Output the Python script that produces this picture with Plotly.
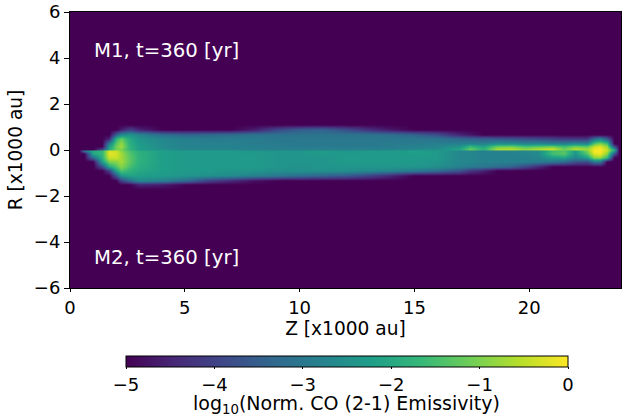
import plotly.graph_objects as go

z_kau = [0.4, 0.6, 1.0, 1.4, 1.7, 2.0, 2.2, 2.6, 3.0, 4.0, 5.0, 6.0, 7.0, 8.0, 9.0, 10.0, 11.0, 12.0, 13.0, 14.0,
         15.0, 16.0, 17.0, 17.4, 18.0, 18.6, 19.2, 19.8, 20.4, 21.0, 21.5, 22.0, 22.5, 22.8, 23.1, 23.4, 23.7, 23.9]
r_kau = [1.1, 0.9, 0.7, 0.5, 0.3, 0.15, 0.02, -0.02, -0.15, -0.3, -0.5, -0.7, -0.9, -1.1, -1.3, -1.5, -1.7]

# log10 emissivity; one list per Z column, top to bottom in R
columns = [
    [-5, -5, -5, -5, -5, -5, -5, -5, -5, -5, -5, -5, -5, -5, -5, -5, -5],
    [-5, -5, -5, -5, -5, -5, -5, -3.0, -5, -5, -5, -5, -5, -5, -5, -5, -5],
    [-5, -5, -5, -5, -5, -5, -5, -2.0, -2.0, -3.2, -5, -5, -5, -5, -5, -5, -5],
    [-5, -5, -5, -5, -5, -5, -3.8, -1.7, -1.7, -1.8, -2.2, -3.8, -5, -5, -5, -5, -5],
    [-5, -5, -5, -4.5, -2.8, -2.2, -2.0, -0.3, -0.2, -0.4, -1.0, -2.0, -4.0, -5, -5, -5, -5],
    [-5, -5, -3.5, -1.8, -1.3, -1.1, -1.1, -0.4, -0.3, -0.4, -0.9, -1.4, -2.1, -3.6, -5, -5, -5],
    [-5, -4.6, -2.6, -1.2, -0.8, -0.7, -1.0, -0.9, -0.7, -0.7, -0.7, -0.9, -1.4, -2.4, -4.0, -5, -5],
    [-5, -4.0, -2.4, -2.0, -1.9, -1.8, -1.8, -1.5, -1.4, -1.3, -1.3, -1.5, -1.8, -2.1, -3.2, -5, -5],
    [-5, -4.5, -2.7, -2.4, -2.3, -2.2, -2.2, -1.9, -1.8, -1.8, -1.8, -1.9, -2.0, -2.2, -2.6, -4.5, -5],
    [-5, -5, -3.2, -2.7, -2.6, -2.6, -2.5, -2.2, -2.2, -2.2, -2.2, -2.2, -2.2, -2.3, -2.8, -4.6, -5],
    [-5, -5, -3.4, -2.8, -2.8, -2.8, -2.7, -2.3, -2.3, -2.3, -2.3, -2.3, -2.3, -2.4, -3.2, -5, -5],
    [-5, -5, -3.3, -2.9, -2.8, -2.8, -2.7, -2.3, -2.3, -2.3, -2.3, -2.3, -2.3, -2.5, -4.0, -5, -5],
    [-5, -5, -3.2, -2.9, -2.8, -2.8, -2.7, -2.3, -2.3, -2.3, -2.3, -2.3, -2.4, -2.6, -4.4, -5, -5],
    [-5, -4.6, -3.1, -2.9, -2.9, -2.8, -2.8, -2.4, -2.3, -2.3, -2.3, -2.3, -2.4, -2.8, -4.8, -5, -5],
    [-5, -3.9, -3.1, -3.0, -2.9, -2.9, -2.8, -2.4, -2.4, -2.4, -2.4, -2.4, -2.5, -3.0, -5, -5, -5],
    [-5, -3.5, -3.1, -3.0, -3.0, -2.9, -2.8, -2.4, -2.4, -2.4, -2.4, -2.5, -2.5, -3.2, -5, -5, -5],
    [-5, -3.4, -3.1, -3.0, -3.0, -2.9, -2.8, -2.3, -2.3, -2.4, -2.4, -2.4, -2.5, -3.4, -5, -5, -5],
    [-5, -3.8, -3.1, -3.0, -3.0, -2.9, -2.8, -2.4, -2.3, -2.3, -2.3, -2.4, -2.5, -3.6, -5, -5, -5],
    [-5, -4.3, -3.1, -3.0, -3.0, -2.9, -2.8, -2.3, -2.3, -2.3, -2.3, -2.4, -2.6, -4.0, -5, -5, -5],
    [-5, -4.7, -3.2, -3.0, -2.9, -2.9, -2.7, -2.3, -2.3, -2.3, -2.3, -2.4, -2.7, -4.5, -5, -5, -5],
    [-5, -5, -3.4, -3.0, -2.9, -2.8, -2.6, -2.2, -2.2, -2.3, -2.3, -2.4, -2.9, -5, -5, -5, -5],
    [-5, -5, -3.8, -3.1, -2.8, -2.7, -2.5, -2.3, -2.3, -2.3, -2.4, -2.5, -3.2, -5, -5, -5, -5],
    [-5, -5, -4.5, -3.3, -2.8, -2.4, -2.0, -2.7, -2.7, -2.7, -2.7, -2.8, -3.7, -5, -5, -5, -5],
    [-5, -5, -4.7, -3.4, -2.7, -1.6, -1.1, -2.7, -2.7, -2.7, -2.7, -2.9, -4.2, -5, -5, -5, -5],
    [-5, -5, -5, -3.5, -2.8, -2.1, -1.8, -2.8, -2.8, -2.8, -2.8, -3.0, -4.5, -5, -5, -5, -5],
    [-5, -5, -5, -3.6, -2.5, -1.1, -0.6, -2.8, -2.8, -2.8, -2.8, -3.2, -5, -5, -5, -5, -5],
    [-5, -5, -5, -3.7, -2.5, -1.0, -0.5, -2.7, -2.8, -2.8, -2.8, -3.4, -5, -5, -5, -5, -5],
    [-5, -5, -5, -3.8, -2.7, -1.4, -0.8, -2.7, -2.7, -2.8, -2.8, -3.9, -5, -5, -5, -5, -5],
    [-5, -5, -5, -3.9, -2.6, -1.2, -0.5, -2.6, -2.6, -2.7, -2.9, -4.4, -5, -5, -5, -5, -5],
    [-5, -5, -5, -4.0, -2.8, -1.0, -0.3, -1.6, -1.5, -2.3, -3.0, -5, -5, -5, -5, -5, -5],
    [-5, -5, -5, -4.2, -2.8, -1.5, -1.1, -1.4, -1.3, -2.1, -3.2, -5, -5, -5, -5, -5, -5],
    [-5, -5, -5, -4.2, -2.6, -1.0, -0.5, -2.2, -2.4, -2.7, -3.7, -5, -5, -5, -5, -5, -5],
    [-5, -5, -5, -4.2, -2.7, -1.2, -0.7, -1.0, -1.3, -2.2, -3.8, -5, -5, -5, -5, -5, -5],
    [-5, -5, -5, -3.2, -1.3, -0.4, -0.1, 0.0, -0.2, -0.9, -3.0, -5, -5, -5, -5, -5, -5],
    [-5, -5, -5, -2.8, -0.9, -0.2, 0.0, 0.0, -0.1, -0.8, -3.0, -5, -5, -5, -5, -5, -5],
    [-5, -5, -5, -3.6, -1.5, -0.8, -0.5, -0.5, -0.9, -1.7, -5, -5, -5, -5, -5, -5, -5],
    [-5, -5, -5, -5, -5, -3.6, -1.9, -2.1, -3.6, -5, -5, -5, -5, -5, -5, -5, -5],
    [-5, -5, -5, -5, -5, -5, -5, -5, -5, -5, -5, -5, -5, -5, -5, -5, -5],
]
x_ticks = [0, 5, 10, 15, 20]
y_ticks = [-6, -4, -2, 0, 2, 4, 6]
cbar_ticks = [-5, -4, -3, -2, -1, 0]
labels = ["M1, t=360 [yr]", "M2, t=360 [yr]"]
label_r = [4.3, -4.7]

grid = [list(row) for row in zip(*columns)]
FONT = "DejaVu Sans"
W, H = 622, 418
L, R_, T, B = 70, 621, 12, 288

fig = go.Figure(go.Heatmap(
    x=z_kau, y=r_kau, z=grid, zmin=-5, zmax=0, zsmooth="best", colorscale="Viridis",
    hoverinfo="skip",
    colorbar=dict(
        orientation="h", thickness=11, thicknessmode="pixels", len=442, lenmode="pixels",
        x=(347 - L) / (R_ - L), xanchor="center", y=(B - 356) / (B - T), yanchor="top",
        yref="paper", tickvals=cbar_ticks,
        ticktext=["\u22125", "\u22124", "\u22123", "\u22122", "\u22121", "0"],
        ticks="outside", ticklen=2, tickwidth=1, tickcolor="black",
        outlinecolor="black", outlinewidth=1, tickfont=dict(size=18, color="black", family=FONT),
        xpad=0, ypad=0,
    ),
))
for text, r in zip(labels, label_r):
    fig.add_annotation(x=1, y=r, text=text, xanchor="left", yanchor="middle", showarrow=False,
                       xshift=-1, yshift=1, font=dict(size=19.7, color="white", family=FONT))
fig.add_annotation(xref="paper", yref="paper", x=(346 - L) / (R_ - L), y=(B - 404) / (B - T),
                   text="log<sub>10</sub>(Norm. CO (2-1) Emissivity)", xanchor="center", yanchor="middle",
                   showarrow=False, font=dict(size=19, color="black", family=FONT))
axis = dict(showgrid=False, zeroline=False, showline=True, linecolor="black", linewidth=1, mirror=True,
            ticks="outside", tickwidth=1, tickcolor="black",
            tickfont=dict(size=18, color="black", family=FONT))
fig.update_xaxes(range=[0, 24], tickvals=x_ticks, ticklen=3, title=dict(text="Z [x1000 au]", standoff=4,
                 font=dict(size=18.6, color="black", family=FONT)), **axis)
fig.update_yaxes(range=[-6, 6], tickvals=y_ticks, ticklen=5, ticktext=["\u22126", "\u22124", "\u22122", "0", "2", "4", "6"],
                 title=dict(text="R [x1000 au]", standoff=6, font=dict(size=18.6, color="black", family=FONT)), **axis)
fig.update_layout(width=W, height=H, autosize=False, paper_bgcolor="white", plot_bgcolor="#440154",
                  margin=dict(l=L, r=W - R_, t=T, b=H - B, autoexpand=False), showlegend=False)
fig.write_html("out.html", config={"displayModeBar": False}, post_script="document.body.style.margin='0';")
